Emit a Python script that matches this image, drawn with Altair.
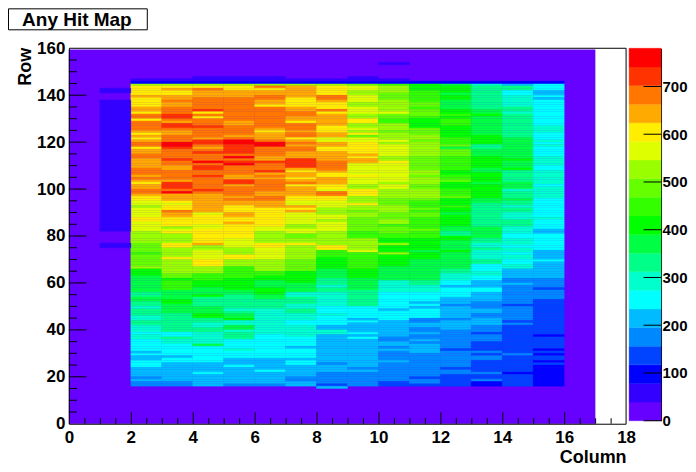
import altair as alt
import pandas as pd

BAND = 39  # counts per colour band on the palette axis
palette = ["#6600ff", "#3300ff", "#0000ff", "#0044ff", "#0088ff", "#00bbff", "#00ffff",
           "#00ffcc", "#00ff88", "#00ff44", "#00ff00", "#33ff00", "#66ff00", "#99ff00",
           "#ddff00", "#ffee00", "#ffaa00", "#ff7700", "#ff3300", "#ff0000"]

# Each column: (number of rows, colour band), reading from row 145 downwards to row 16.
col02 = [(1,13),(4,15),(1,16),(4,15),(2,16),(1,15),(2,17),(1,15),(4,17),(1,16),(1,15),(1,16),(1,15),(1,16),(2,17),(1,15),(2,16),(2,17),(4,16),(3,17),(1,16),(1,17),(1,16),(1,15),(2,16),(2,17),(1,16),(2,15),(2,14),(1,13),(4,14),(2,15),(4,14),(3,13),
         (2,13),(4,12),(1,11),(5,12),(1,13),(3,10),(7,9),(2,8),(2,9),(2,8),(1,7),(3,8),(2,7),(2,8),(3,7),(1,6),(2,7),(5,6),(1,5),(1,6),(2,5),(3,6),(4,5),(1,4),(1,5),(2,4)]
col03 = [(1,13),(1,15),(1,16),(2,15),(2,16),(1,17),(2,16),(3,17),(2,18),(1,17),(1,16),(2,18),(1,17),(2,16),(3,17),(2,19),(1,18),(4,17),(1,18),(2,17),(2,16),(4,17),(1,16),(3,18),(1,17),(1,19),(3,16),(1,15),(1,14),(2,15),(1,17),(2,16),(4,15),(1,13),(1,14),(1,15),(2,13),
         (2,13),(2,15),(4,13),(1,15),(2,13),(4,13),(2,12),(1,10),(1,11),(3,11),(4,9),(2,10),(4,9),(8,8),(2,6),(1,8),(2,7),(5,6),(1,5),(2,6),(8,5),(2,4)]
col04 = [(1,13),(1,15),(1,17),(3,16),(1,17),(4,17),(1,18),(1,15),(1,17),(1,15),(3,17),(1,18),(4,17),(1,16),(2,18),(1,17),(1,16),(1,17),(1,18),(3,17),(1,19),(1,17),(2,18),(2,17),(1,18),(5,17),(1,18),(1,17),(8,16),(1,14),(4,15),(2,14),(4,15),
         (2,15),(1,16),(2,13),(4,14),(3,15),(3,13),(3,11),(3,10),(3,9),(1,10),(4,8),(3,9),(2,10),(2,8),(2,7),(2,8),(5,7),(1,9),(7,6),(4,5),(1,6),(5,5)]
col05 = [(1,13),(2,15),(3,16),(10,17),(2,16),(4,17),(1,16),(1,17),(2,19),(4,18),(1,17),(1,19),(1,17),(1,18),(1,19),(4,17),(2,16),(2,18),(1,16),(4,17),(1,16),(1,17),(2,16),(3,15),(2,16),(2,15),(1,16),(6,15),
         (4,14),(2,13),(1,13),(2,15),(3,13),(5,11),(2,10),(3,10),(2,9),(6,8),(1,7),(1,8),(2,9),(1,10),(2,7),(2,9),(1,7),(3,8),(4,6),(1,7),(3,6),(3,5),(1,6),(7,5),(1,4)]
col06 = [(1,13),(1,17),(1,15),(2,16),(2,17),(2,16),(1,15),(9,17),(1,16),(1,15),(3,16),(1,17),(2,19),(4,17),(2,16),(1,18),(3,17),(1,18),(1,16),(1,17),(1,16),(5,17),(2,16),(2,17),(3,16),(8,15),(2,14),(3,13),
         (2,13),(2,15),(5,14),(2,13),(3,13),(2,11),(2,10),(3,9),(3,10),(2,9),(4,8),(11,7),(10,6),(2,5),(3,5),(1,6),(5,5),(1,4)]
col07 = [(1,13),(5,16),(4,15),(2,16),(2,17),(2,16),(1,15),(3,17),(1,16),(2,17),(1,15),(1,16),(1,17),(1,16),(2,17),(3,16),(4,18),(1,16),(1,15),(2,16),(1,15),(1,16),(1,17),(1,15),(4,16),(2,15),(2,14),(1,16),(1,15),(1,16),(5,14),(2,13),(2,14),(2,12),
         (2,13),(1,15),(6,13),(5,12),(5,10),(4,9),(2,7),(3,8),(2,7),(2,8),(3,7),(2,6),(1,7),(4,7),(4,6),(1,5),(4,6),(1,5),(2,6),(5,5),(2,4),(2,5)]
col08 = [(1,13),(4,15),(1,17),(1,17),(1,16),(3,15),(1,17),(1,15),(5,16),(3,15),(2,16),(2,14),(2,16),(2,15),(4,16),(4,17),(1,16),(2,15),(3,16),(2,15),(1,14),(2,17),(2,15),(3,14),(3,13),(2,14),(1,13),(4,14),(3,13),
         (3,13),(2,15),(3,11),(5,10),(4,9),(3,8),(1,7),(2,8),(6,7),(3,6),(1,7),(4,6),(2,5),(2,7),(12,5),(1,4),(3,5),(5,4),(1,3),(1,5)]
col09 = [(1,12),(2,14),(2,13),(3,14),(2,13),(3,14),(2,13),(2,15),(2,13),(1,14),(1,13),(1,15),(1,12),(2,14),(5,15),(1,16),(1,15),(2,16),(5,14),(1,15),(3,14),(2,13),(3,15),(3,13),(1,15),(2,13),(1,12),(2,13),(2,12),(4,12),(3,11),
         (5,13),(1,14),(3,11),(4,11),(4,10),(5,9),(7,8),(5,6),(1,5),(1,6),(4,5),(1,6),(1,5),(1,6),(12,5),(1,4),(1,5),(6,4)]
col10 = [(1,11),(3,13),(3,12),(3,13),(2,13),(1,14),(2,12),(2,11),(3,13),(1,12),(3,13),(1,14),(1,13),(5,14),(2,13),(1,15),(8,14),(1,13),(2,14),(4,13),(3,12),(3,13),(3,12),(2,13),(1,11),(3,12),(2,11),
         (2,10),(1,13),(3,10),(1,13),(5,10),(6,9),(5,7),(7,6),(1,5),(4,6),(7,5),(2,4),(2,5),(1,4),(1,5),(4,4),(1,5),(8,4),(2,3)]
col11 = [(1,10),(2,10),(5,11),(2,12),(1,11),(3,12),(1,11),(4,10),(3,12),(2,13),(1,12),(6,13),(3,12),(3,12),(2,13),(1,12),(3,13),(2,12),(4,13),(1,12),(3,11),(1,12),(1,11),(2,12),(5,11),(1,12),(3,11),
         (5,10),(1,9),(3,10),(9,9),(2,8),(3,7),(4,6),(1,5),(1,6),(1,5),(4,6),(2,4),(2,5),(2,4),(1,5),(2,4),(1,5),(1,4),(4,5),(1,4),(9,4),(1,3),(2,4),(1,3)]
col12 = [(1,9),(3,10),(1,9),(2,10),(4,9),(2,10),(1,11),(1,10),(3,11),(5,10),(3,11),(1,12),(1,9),(3,12),(6,11),(2,10),(2,11),(1,12),(3,10),(3,11),(1,12),(3,10),(1,11),(2,10),(1,9),(5,10),(2,9),(2,8),(1,10),
         (1,10),(4,9),(1,10),(7,9),(2,8),(3,7),(2,6),(1,5),(4,6),(3,5),(1,4),(5,5),(1,4),(4,5),(8,4),(1,3),(7,4),(1,3),(2,4),(5,3)]
col13 = [(1,7),(10,8),(2,9),(1,10),(1,9),(7,9),(2,10),(2,10),(2,8),(3,9),(5,10),(2,9),(4,10),(1,9),(6,10),(2,9),(4,8),(6,8),(5,9),
         (2,8),(2,7),(1,8),(4,7),(2,8),(3,6),(2,7),(2,6),(3,5),(2,6),(4,5),(3,4),(2,5),(2,4),(3,5),(3,4),(1,3),(3,4),(4,3),(1,4),(1,3),(2,4),(5,3),(1,4),(2,3),(1,4),(2,2)]
col14 = [(1,5),(2,8),(2,6),(3,7),(2,7),(2,8),(1,7),(4,8),(6,8),(4,9),(5,9),(1,10),(3,9),(1,10),(5,8),(3,9),(1,7),(3,8),(1,9),(2,8),(1,7),(2,8),(3,7),(3,8),(3,7),(2,6),
         (3,7),(1,6),(2,7),(1,6),(2,7),(2,6),(2,7),(4,5),(2,4),(1,5),(1,4),(2,4),(1,4),(4,4),(1,3),(6,4),(1,3),(1,4),(12,3),(1,4),(7,3),(1,2),(5,3)]
col15 = [(1,6),(2,6),(2,5),(1,6),(1,5),(11,6),(3,7),(3,6),(1,7),(1,6),(1,7),(4,6),(4,7),(2,6),(6,7),(1,6),(2,7),(3,7),(8,6),(1,7),(4,6),(2,5),(2,6),
         (5,6),(4,5),(1,6),(7,5),(4,4),(1,3),(4,4),(15,3),(1,2),(5,3),(1,2),(1,3),(1,2),(2,3),(1,2),(1,3),(9,2)]
columns = [col02, col03, col04, col05, col06, col07, col08, col09, col10, col11, col12, col13, col14, col15]

# (column, lowest row, rows, band) for the faint cells around the main block
extra_cells = [(1,141,2,1),(1,82,56,1),(1,75,2,1),(10,153,1,1),(4,147,1,1),(5,147,1,1),(6,147,1,1),(9,147,1,1)]
row145_cols = [2,3,4,5,6,7,8,9,10,11,12,13,14,15]
row146_cols = [2,3,4,5,6,7,8,9,10]

x_major = [0,2,4,6,8,10,12,14,16,18]
x_minor = [0.5,1,1.5,2.5,3,3.5,4.5,5,5.5,6.5,7,7.5,8.5,9,9.5,10.5,11,11.5,12.5,13,13.5,14.5,15,15.5,16.5,17,17.5]
y_major = [0,20,40,60,80,100,120,140,160]
y_minor = [5,10,15,25,30,35,45,50,55,65,70,75,85,90,95,105,110,115,125,130,135,145,150,155]
z_ticks = [0,100,200,300,400,500,600,700]
title_text = "Any Hit Map"

cells = [{"x0": 0, "x1": 17, "y0": 0, "y1": 159.4, "z": 20}]
for i, col in enumerate(columns):
    top = 145
    for n, band in col:
        for _ in range(n):
            cells.append({"x0": i + 2, "x1": i + 3, "y0": top - 1, "y1": top, "z": band * BAND + 20})
            top -= 1
for c, low, n, band in extra_cells:
    cells.append({"x0": c, "x1": c + 1, "y0": low, "y1": low + n, "z": band * BAND + 20})
for c in row145_cols:
    cells.append({"x0": c, "x1": c + 1, "y0": 145, "y1": 146, "z": 2 * BAND + 20})
for c in row146_cols:
    cells.append({"x0": c, "x1": c + 1, "y0": 146, "y1": 147, "z": 1 * BAND + 20})
cells = pd.DataFrame(cells)

FONT = "Liberation Sans"
W, H = 558, 376
color_scale = alt.Scale(type="threshold", domain=[BAND * k for k in range(1, 20)], range=palette)
xs = alt.Scale(domain=[0, 18], nice=False, zero=False)
ys = alt.Scale(domain=[0, 160], nice=False, zero=False)
zs = alt.Scale(domain=[0, BAND * 20], nice=False, zero=False)

x_axis = alt.Axis(
    values=x_major, grid=False, domain=False, ticks=False, tickSize=0, labelFont=FONT, labelFontSize=17,
    labelFontWeight="bold", labelColor="black", labelPadding=6, labelFlush=False, labelOverlap=False,
    title="Column", titleFont=FONT, titleFontSize=18, titleFontWeight="bold", titleColor="black",
    titleAnchor="end", titleAlign="right", titleX=W, titleY=25)
y_axis = alt.Axis(
    values=y_major, grid=False, domain=False, ticks=False, tickSize=0, labelFont=FONT, labelFontSize=17,
    labelFontWeight="bold", labelColor="black", labelPadding=4, labelFlush=False, labelOverlap=False,
    title="Row", titleFont=FONT, titleFontSize=18, titleFontWeight="bold", titleColor="black",
    titleAnchor="end", titleAlign="right", titleAngle=270, titleX=-34, titleY=-1)
z_axis = alt.Axis(
    orient="right", values=z_ticks, grid=False, ticks=False, tickSize=0, domain=True, domainColor="black",
    labelFont=FONT, labelFontSize=15, labelFontWeight="bold", labelColor="black", labelPadding=1,
    labelFlush=False, labelOverlap=False, title=None)

heat = alt.Chart(cells).mark_rect(strokeWidth=0.4).encode(
    x=alt.X("x0:Q", scale=xs, axis=x_axis),
    x2="x1:Q",
    y=alt.Y("y0:Q", scale=ys, axis=y_axis),
    y2="y1:Q",
    color=alt.Color("z:Q", scale=color_scale, legend=None),
    stroke=alt.Stroke("z:Q", scale=color_scale, legend=None),
)


def xticks(vals, length):
    return alt.Chart(pd.DataFrame({"v": vals})).mark_rule(color="black", strokeWidth=1, xOffset=0.5).encode(
        x=alt.X("v:Q", scale=xs, axis=x_axis), y=alt.value(H), y2=alt.value(H - length))


def yticks(vals, length):
    return alt.Chart(pd.DataFrame({"v": vals})).mark_rule(color="black", strokeWidth=1).encode(
        y=alt.Y("v:Q", scale=ys, axis=y_axis), x=alt.value(0), x2=alt.value(length))


frame = alt.Chart(pd.DataFrame({"a": [0], "b": [18], "c": [0], "d": [160]})).mark_rect(
    filled=False, stroke="black", strokeWidth=1, xOffset=0.5, yOffset=0.5
).encode(x=alt.X("a:Q", scale=xs, axis=x_axis), x2="b:Q", y=alt.Y("c:Q", scale=ys, axis=y_axis), y2="d:Q")

title_df = pd.DataFrame({"t": [title_text]})
title_box = alt.Chart(title_df).mark_rect(filled=True, fill="white", stroke="black", strokeWidth=1).encode(
    x=alt.value(-60.5), x2=alt.value(78.5), y=alt.value(-39.5), y2=alt.value(-18.5))
title_label = alt.Chart(title_df).mark_text(
    font=FONT, fontSize=19, fontWeight="bold", color="black", align="center", baseline="alphabetic"
).encode(text="t:N", x=alt.value(8), y=alt.value(-22.7))

main = alt.layer(heat, xticks(x_minor, 5.5), xticks(x_major[1:-1], 11.5), yticks(y_minor, 8), yticks(y_major[1:-1], 17.5),
                 frame, title_box, title_label).properties(width=W, height=H)

bands = pd.DataFrame({"lo": [BAND * k for k in range(20)], "hi": [BAND * (k + 1) for k in range(20)],
                      "z": [BAND * k + 20 for k in range(20)]})
bar_rect = alt.Chart(bands).mark_rect(strokeWidth=0.4).encode(
    x=alt.value(0), x2=alt.value(32),
    y=alt.Y("lo:Q", scale=zs, axis=z_axis),
    y2="hi:Q",
    color=alt.Color("z:Q", scale=color_scale, legend=None),
    stroke=alt.Stroke("z:Q", scale=color_scale, legend=None),
)
bar_ticks = alt.Chart(pd.DataFrame({"v": z_ticks})).mark_rule(color="black", strokeWidth=1).encode(
    y=alt.Y("v:Q", scale=zs, axis=z_axis), x=alt.value(14.5), x2=alt.value(32))
bar = alt.layer(bar_rect, bar_ticks).properties(width=32, height=373)

chart = alt.hconcat(main, bar, spacing=3, bounds="flush").properties(
    padding=0, background="white"
).configure_view(stroke=None)

chart.save("out.html", embed_options={"renderer": "svg", "actions": False})
